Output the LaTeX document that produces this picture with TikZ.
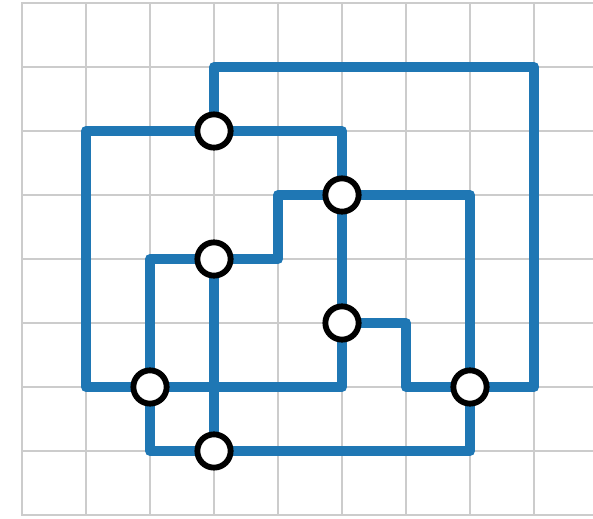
\documentclass[tikz,border=0pt]{standalone}
\definecolor{knotblue}{HTML}{1F77B4}
\definecolor{gridgray}{HTML}{CCCCCC}
\tikzset{
    gridline/.style={gridgray, line width=1.3pt, line cap=rect},
    strand/.style={knotblue, line width=4.5pt, line join=round},
    crossing/.style={circle, draw=black, fill=white, line width=2.6pt,
        minimum size=0.52cm, inner sep=0pt},
}
\begin{document}
\begin{tikzpicture}
    \useasboundingbox (-0.344,-0.047) rectangle (8.922,8.047);
    %grid
    \foreach \i in {0,...,8}
        \draw[gridline] (\i,0)--(\i,8);
    \foreach \j in {0,...,8}
        \draw[gridline] (0,\j)--(8.922,\j);
    %strands
    \draw[strand] (3,6)--(3,7)--(8,7)--(8,2)--(6,2)--(6,3)--(5,3);
    \draw[strand] (1,6) rectangle (5,2);
    \draw[strand] (2,4)--(4,4)--(4,5)--(7,5)--(7,1)--(2,1)--cycle;
    \draw[strand] (3,4)--(3,1);
    %crossings
    \node[crossing] (top) at (3,6) {};
    \node[crossing] (upright) at (5,5) {};
    \node[crossing] (mid) at (3,4) {};
    \node[crossing] (step) at (5,3) {};
    \node[crossing] (left) at (2,2) {};
    \node[crossing] (right) at (7,2) {};
    \node[crossing] (bottom) at (3,1) {};
\end{tikzpicture}
\end{document}
